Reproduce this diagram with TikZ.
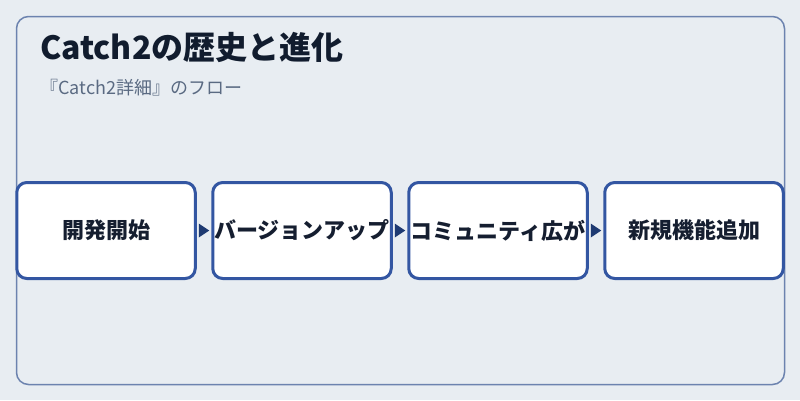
\documentclass[tikz,border=0pt]{standalone}
\usepackage{fontspec}
\newfontfamily\jp{Noto Sans CJK JP}
\definecolor{bgc}{HTML}{E8EDF2}
\definecolor{framec}{HTML}{6C83AF}
\definecolor{boxc}{HTML}{3356A2}
\definecolor{arrc}{HTML}{1E3A72}
\definecolor{titlec}{HTML}{111C2E}
\definecolor{subc}{HTML}{5A6A82}
\definecolor{boxtext}{HTML}{151E30}
\begin{document}
\begin{tikzpicture}[x=1pt,y=-1pt,
  stepbox/.style={draw=boxc, line width=3pt, fill=white, rounded corners=10pt,
    minimum width=178.5pt, minimum height=96pt, inner sep=0pt,
    font=\jp\bfseries\fontsize{22}{26}\selectfont, text=boxtext},
  flowhead/.style={fill=arrc}
]
\useasboundingbox (0,0) rectangle (800,400);
\fill[bgc] (0,0) rectangle (800,400);
\draw[framec, line width=1.5pt, rounded corners=12pt] (16.5,16.5) rectangle (784.5,384.5);
\node[anchor=base west, inner sep=0pt, text=titlec, font=\jp\bfseries\fontsize{32}{36}\selectfont] (title) at (40,59) {Catch2の歴史と進化};
\node[anchor=base west, inner sep=0pt, text=subc, font=\jp\fontsize{18}{22}\selectfont] (sub) at (40,94) {『Catch2詳細』のフロー};
\node[stepbox] (b1) at (106,230.5) {開発開始};
\node[stepbox] (b2) at (302,230.5) {バージョンアップ};
\node[stepbox] (b3) at (498,230.5) {コミュニティ広が};
\node[stepbox] (b4) at (694,230.5) {新規機能追加};
\foreach \a/\b in {b1/b2,b2/b3,b3/b4}{
  \fill[flowhead] ([xshift=2pt,yshift=7pt]\a.east) -- ([xshift=-2pt]\b.west) -- ([xshift=2pt,yshift=-7pt]\a.east) -- cycle;
}
\end{tikzpicture}
\end{document}
